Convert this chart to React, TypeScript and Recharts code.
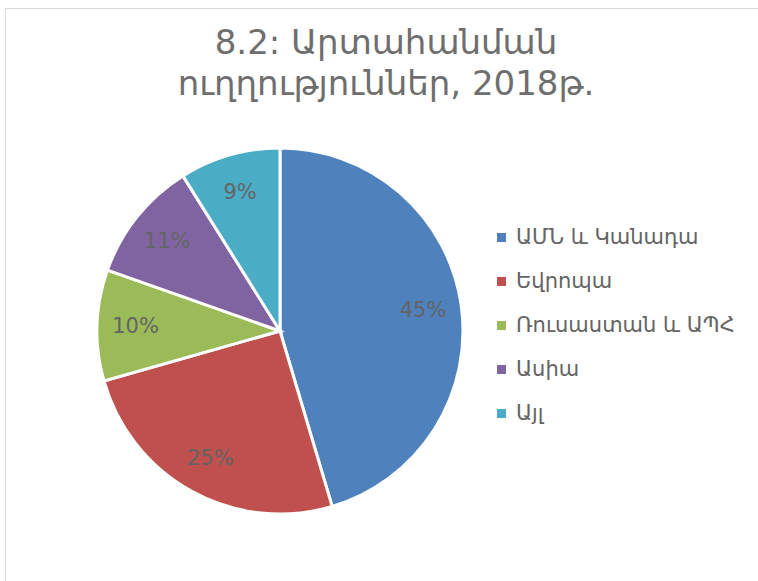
import { PieChart, Pie, Cell } from 'recharts';

const titleLines = ['8.2: Արտահանման', 'ուղղություններ, 2018թ.'];
const regions = ['ԱՄՆ և Կանադա', 'Եվրոպա', 'Ռուսաստան և ԱՊՀ', 'Ասիա', 'Այլ'];
const shares = [45.4, 25.2, 9.8, 10.7, 8.9];
const colors = ['#4F81BD', '#C0504D', '#9BBB59', '#8064A2', '#4BACC6'];

const data = regions.map((name, i) => ({ name, value: shares[i] }));

const FONT = '"DejaVu Sans", Verdana, sans-serif';
const RAD = Math.PI / 180;

const renderLabel = (props: any) => {
  const { cx, cy, midAngle, outerRadius, percent } = props;
  const r = outerRadius * 0.79;
  const x = cx + r * Math.cos(-midAngle * RAD);
  const y = cy + r * Math.sin(-midAngle * RAD);
  return (
    <text
      x={x}
      y={y}
      fill="#646464"
      fontSize={21}
      fontFamily={FONT}
      textAnchor="middle"
      dominantBaseline="central"
    >
      {`${Math.round(percent * 100)}%`}
    </text>
  );
};

export default function App() {
  return (
    <div style={{ position: 'absolute', left: 0, top: 0, width: 758, height: 581, background: '#fff', overflow: 'hidden' }}>
      <div
        style={{
          position: 'absolute',
          left: 5,
          top: 8,
          width: 780,
          height: 600,
          border: '1px solid #d9d9d9',
        }}
      />
      <div
        style={{
          position: 'absolute',
          left: 0,
          top: 22,
          width: 772,
          textAlign: 'center',
          fontFamily: FONT,
          fontSize: 34,
          lineHeight: '41px',
          color: '#6e6e6e',
        }}
      >
        {titleLines.map((t) => (
          <div key={t}>{t}</div>
        ))}
      </div>
      <div style={{ position: 'absolute', left: 0, top: 0 }}>
        <PieChart width={758} height={581} margin={{ top: 0, right: 0, bottom: 0, left: 0 }}>
          <Pie
            data={data}
            dataKey="value"
            nameKey="name"
            cx={280}
            cy={331}
            outerRadius={183}
            startAngle={90}
            endAngle={-270}
            stroke="#ffffff"
            strokeWidth={3}
            label={renderLabel}
            labelLine={false}
            isAnimationActive={false}
          >
            {data.map((d, i) => (
              <Cell key={d.name} fill={colors[i]} />
            ))}
          </Pie>
        </PieChart>
      </div>
      <div style={{ position: 'absolute', left: 497, top: 215, fontFamily: FONT }}>
        {regions.map((name, i) => (
          <div
            key={name}
            style={{ display: 'flex', alignItems: 'center', height: 44, color: '#646464', fontSize: 21, whiteSpace: 'nowrap' }}
          >
            <span
              style={{ width: 9, height: 9, background: colors[i], marginRight: 10, display: 'inline-block' }}
            />
            {name}
          </div>
        ))}
      </div>
    </div>
  );
}
